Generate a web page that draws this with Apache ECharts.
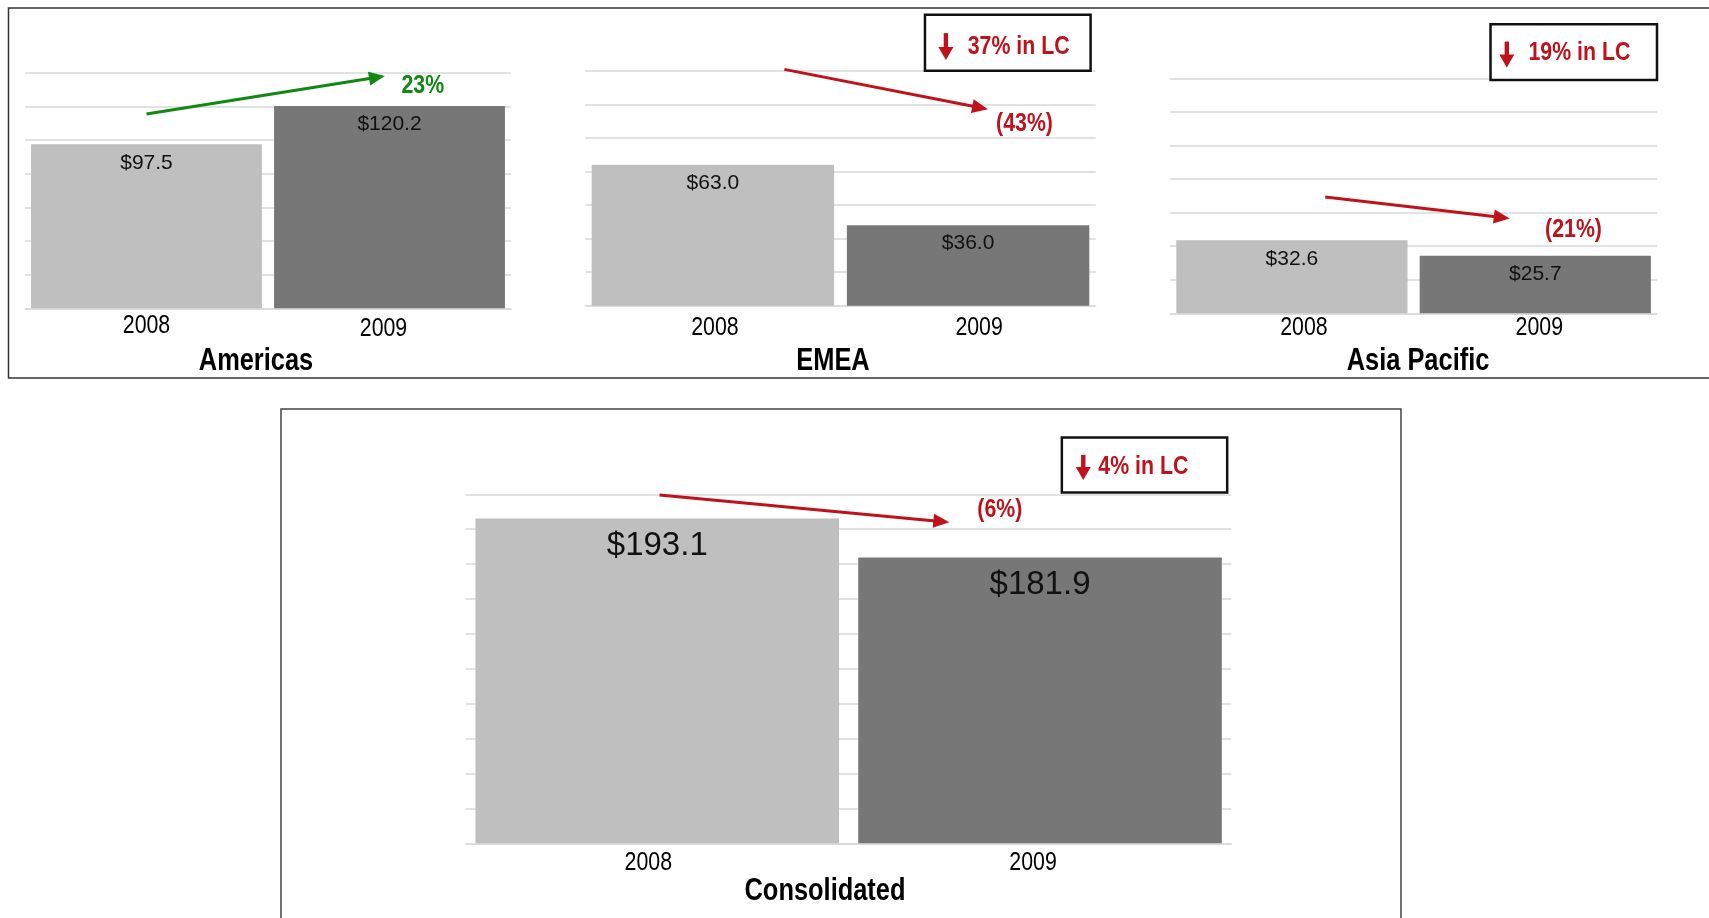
<!DOCTYPE html>
<html><head><meta charset="utf-8">
<script src="https://cdn.jsdelivr.net/npm/echarts@6/dist/echarts.min.js"></script>
<style>html,body{margin:0;padding:0;background:#fff}#c{width:1709px;height:918px}</style>
</head><body><div id="c"></div>
<script>
// ---- data ----
const years = ['2008', '2009'];
const regions = ['Americas', 'EMEA', 'Asia Pacific', 'Consolidated'];
const americas = [97.5, 120.2];
const emea = [63.0, 36.0];
const asiaPacific = [32.6, 25.7];
const consolidated = [193.1, 181.9];
const changeLabels = ['23%', '(43%)', '(21%)', '(6%)'];
const lcLabels = [null, '37% in LC', '19% in LC', '4% in LC'];
const axisMin = [0, 0, 0, 100];
const axisMax = [140, 105, 105, 200];
const axisStep = [20, 15, 15, 10];

// ---- layout / style ----
const seriesValues = [americas, emea, asiaPacific, consolidated];
const barColors = ['#bfbfbf', '#777777'];
const SANS = "'Liberation Sans',Arial,Helvetica,sans-serif";
const NARROW_SCALE = 0.82; // Arial Narrow ≈ Arial horizontally compressed
const GRID_COLOR = '#d9d9d9';
const RED = '#c0121c', GREEN = '#118811';

const layout = {
  grids: [
    {left: 25, top: 72.7, width: 486, height: 235.6},
    {left: 585.3, top: 70.7, width: 510.4, height: 235},
    {left: 1170.2, top: 78.3, width: 486.8, height: 235},
    {left: 465.9, top: 494.3, width: 765.5, height: 349}
  ],
  valueLabel: [{size: 21, dist: 8}, {size: 21, dist: 8}, {size: 21, dist: 8}, {size: 33, dist: 11}],
  catLabelDy: [[18, 21], [22, 22], [15, 15], [20, 20]],
  catLabelDx: [[0, -6], [2, 11], [12, 4], [-9, -7]],
  titleXY: [[256, 361], [833, 361], [1418, 361], [825, 891]],
  notes: [
    {arrow: [0.0, 115.4, 0.981, 138.0], pct: [1.137, 132.1], color: GREEN},
    {arrow: [0.28, 105.6, 1.078, 87.8], pct: [1.221, 81.2], box: [0.831, 130, 1.48, 105], icon: [0.913, 121.8, 109.8], lc: [1.198, 115.7], color: RED},
    {arrow: [0.137, 52.0, 0.895, 42.4], pct: [1.157, 37.5], box: [0.816, 129.1, 1.50, 104.2], icon: [0.883, 121.4, 109.8], lc: [1.181, 116.2], color: RED},
    {arrow: [0.006, 199.8, 0.763, 192.0], pct: [0.895, 195.5], box: [1.057, 216.3, 1.489, 200.5], icon: [1.113, 211.3, 204.1], lc: [1.27, 208], color: RED}
  ]
};

const chart = echarts.init(document.getElementById('c'), null, {renderer: 'canvas'});

const grid = [], xAxis = [], yAxis = [], series = [];
seriesValues.forEach((vals, i) => {
  grid.push(Object.assign({containLabel: false}, layout.grids[i]));
  xAxis.push({
    type: 'category', gridIndex: i, data: years,
    axisTick: {show: false},
    axisLine: {lineStyle: {color: GRID_COLOR, width: 1.5}},
    axisLabel: {show: false}
  });
  yAxis.push({
    type: 'value', gridIndex: i, min: axisMin[i], max: axisMax[i], interval: axisStep[i],
    axisLabel: {show: false}, axisLine: {show: false}, axisTick: {show: false},
    splitLine: {lineStyle: {color: GRID_COLOR, width: 1.5}}
  });
  series.push({
    type: 'bar', name: regions[i], xAxisIndex: i, yAxisIndex: i,
    barCategoryGap: '5%',
    data: vals.map((v, k) => ({value: v, itemStyle: {color: barColors[k]}})),
    label: {
      show: true, position: 'insideTop', distance: layout.valueLabel[i].dist,
      fontFamily: SANS, fontSize: layout.valueLabel[i].size, color: '#111',
      formatter: p => '$' + p.value.toFixed(1)
    },
    silent: true, animation: false
  });
});

chart.setOption({animation: false, grid, xAxis, yAxis, series});

// ---- annotations anchored through the axes ----
function toPx(i, pos, v) {
  const c0 = chart.convertToPixel({xAxisIndex: i}, years[0]);
  const c1 = chart.convertToPixel({xAxisIndex: i}, years[1]);
  const y0 = chart.convertToPixel({yAxisIndex: i}, axisMin[i]);
  const y1 = chart.convertToPixel({yAxisIndex: i}, axisMax[i]);
  return [c0 + pos * (c1 - c0), y0 + (v - axisMin[i]) / (axisMax[i] - axisMin[i]) * (y1 - y0)];
}
function narrowText(x, y, text, color, size, bold, z) {
  return {type: 'text', x: x, y: y, scaleX: NARROW_SCALE, z: z || 1, silent: true,
    style: {text: text, fill: color, font: (bold ? 'bold ' : '') + size + 'px ' + SANS, align: 'center', verticalAlign: 'middle'}};
}
function arrowEls(p0, p1, color, lw, hl, hw) {
  const dx = p1[0] - p0[0], dy = p1[1] - p0[1];
  const L = Math.hypot(dx, dy), ux = dx / L, uy = dy / L;
  const bx = p1[0] - ux * hl, by = p1[1] - uy * hl;
  return [
    {type: 'line', shape: {x1: p0[0], y1: p0[1], x2: bx + ux * 2, y2: by + uy * 2}, style: {stroke: color, lineWidth: lw}, silent: true},
    {type: 'polygon', shape: {points: [[p1[0], p1[1]], [bx - uy * hw / 2, by + ux * hw / 2], [bx + uy * hw / 2, by - ux * hw / 2]]}, style: {fill: color}, silent: true}
  ];
}
const g = [];
g.push({type: 'rect', shape: {x: 8.5, y: 8, width: 1720, height: 370}, style: {fill: 'none', stroke: '#333', lineWidth: 1.5}, silent: true, z: -10});
g.push({type: 'rect', shape: {x: 281, y: 409, width: 1120, height: 540}, style: {fill: 'none', stroke: '#444', lineWidth: 1.5}, silent: true, z: -10});

layout.notes.forEach((n, i) => {
  // category labels
  const base = chart.convertToPixel({yAxisIndex: i}, axisMin[i]);
  years.forEach((yr, k) => {
    const cx = chart.convertToPixel({xAxisIndex: i}, yr);
    g.push(narrowText(cx + layout.catLabelDx[i][k], base + layout.catLabelDy[i][k], yr, '#000', 26, false));
  });
  const a0 = toPx(i, n.arrow[0], n.arrow[1]);
  const a1 = toPx(i, n.arrow[2], n.arrow[3]);
  g.push(...arrowEls(a0, a1, n.color, 3, 16, 14));
  const pp = toPx(i, n.pct[0], n.pct[1]);
  g.push(narrowText(pp[0], pp[1], changeLabels[i], n.color, 26, true));
  if (n.box) {
    const b0 = toPx(i, n.box[0], n.box[1]);
    const b1 = toPx(i, n.box[2], n.box[3]);
    g.push({type: 'rect', shape: {x: b0[0], y: b0[1], width: b1[0] - b0[0], height: b1[1] - b0[1]}, style: {fill: '#fff', stroke: '#111', lineWidth: 2.5}, silent: true, z: 5});
    const it = toPx(i, n.icon[0], n.icon[1]);
    const ib = toPx(i, n.icon[0], n.icon[2]);
    const hx = it[0], head = 13;
    g.push({type: 'rect', shape: {x: hx - 2.2, y: it[1], width: 4.4, height: ib[1] - it[1] - head + 1}, style: {fill: RED}, silent: true, z: 6});
    g.push({type: 'polygon', shape: {points: [[hx - 7.5, ib[1] - head], [hx + 7.5, ib[1] - head], [hx, ib[1]]]}, style: {fill: RED}, silent: true, z: 6});
    const lp = toPx(i, n.lc[0], n.lc[1]);
    g.push(narrowText(lp[0], lp[1], lcLabels[i], RED, 26, true, 6));
  }
  const t = layout.titleXY[i];
  g.push(narrowText(t[0], t[1], regions[i], '#000', 31, true));
});

chart.setOption({graphic: g});
</script>
</body></html>
